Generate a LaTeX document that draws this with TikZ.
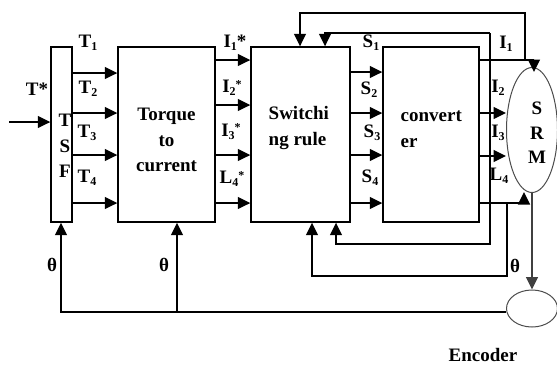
\documentclass[tikz,border=0pt]{standalone}
\usepackage{fontspec}
\setmainfont{Liberation Serif}
\usetikzlibrary{arrows.meta,shapes.geometric}
\newcommand\sbs[1]{\raisebox{-0.35ex}{\fontsize{12}{12}\selectfont #1}}
\newcommand\sps[1]{\raisebox{0.55ex}{\fontsize{12}{12}\selectfont #1}}
\begin{document}
\begin{tikzpicture}[x=1pt,y=-1pt, line width=1.4pt,
  box/.style={draw, rectangle, minimum height=175pt, inner sep=0pt},
  oval/.style={draw=black!70, line width=1pt, ellipse, inner sep=0pt},
  arr/.style={-{Triangle[length=12.5pt,width=12pt]}},
  lbl/.style={font=\fontsize{19}{19}\selectfont\bfseries, inner sep=0pt},
  txt/.style={font=\fontsize{19}{25.5}\selectfont\bfseries, inner sep=0pt}]
\useasboundingbox (0,0) rectangle (557,365);

% blocks
\node[box, minimum width=21pt] (tsf) at (61.5,134.5) {};
\node[box, minimum width=97pt] (tq) at (166.5,134.5) {};
\node[box, minimum width=99pt] (sw) at (300.5,134.5) {};
\node[box, minimum width=96pt] (cv) at (431,134.5) {};
\node[oval, minimum width=51pt, minimum height=125pt] (srm) at (532,130) {};
\node[oval, minimum width=51pt, minimum height=37pt] (enc) at (532,308.5) {};

% block texts
\node[txt, align=center] at (65,146) {T\\S\\F};
\node[txt, align=center] at (166.5,140) {Torque\\to\\current};
\node[txt, align=left, anchor=west] at (268,128) {Switchi\\ng rule};
\node[txt, align=left, anchor=west] at (400,129) {convert\\er};
\node[font=\fontsize{19}{24.5}\selectfont\bfseries, inner sep=0pt, align=center] at (537,133) {S\\R\\M};
\node[txt] at (483,355) {Encoder};

% forward arrows
\draw[arr] (9,122) -- (tsf.west |- 0,122);
\foreach \y in {73,113,155,203} \draw[arr] (tsf.east |- 0,\y) -- (tq.west |- 0,\y);
\foreach \y in {60,105,155,203} \draw[arr] (tq.east |- 0,\y) -- (sw.west |- 0,\y);
\foreach \y in {72,113,155,203} \draw[arr] (sw.east |- 0,\y) -- (cv.west |- 0,\y);

% converter outputs
\draw[arr] (cv.east |- 0,60) -- (534,60) -- (534,72);
\draw[arr] (cv.east |- 0,113) -- (506,113);
\draw[arr] (cv.east |- 0,156) -- (506,156);
\draw[arr] (cv.east |- 0,203) -- (524,203) -- (524,192);

% feedback loops
\draw[arr] (525,60) -- (525,13) -- (300,13) -- (sw.north -| 300,0);
\draw[arr] (490,33) -- (325,33) -- (sw.north -| 325,0);
\draw[arr] (490,33) -- (490,244) -- (336,244) -- (sw.south -| 336,0);
\draw[arr] (507,203) -- (507,276) -- (312,276) -- (sw.south -| 312,0);
\draw[arr, draw=black!75] (srm.south) -- (enc.north);
\draw[arr] (enc.west |- 0,312) -- (61,312) -- (tsf.south -| 61,0);
\draw[arr] (177,312) -- (tq.south -| 177,0);

% labels
\node[lbl] at (37,89) {T*};
\node[lbl] at (88,43) {T\sbs{1}};
\node[lbl] at (88,89) {T\sbs{2}};
\node[lbl] at (87,133) {T\sbs{3}};
\node[lbl] at (87,178) {T\sbs{4}};
\node[lbl] at (235,43) {I\sbs{1}*};
\node[lbl] at (232,88) {I\sbs{2}\sps{*}};
\node[lbl] at (231,132) {I\sbs{3}\sps{*}};
\node[lbl] at (232,179) {L\sbs{4}\sps{*}};
\node[lbl] at (371,43) {S\sbs{1}};
\node[lbl] at (369,90) {S\sbs{2}};
\node[lbl] at (372,133) {S\sbs{3}};
\node[lbl] at (370,178) {S\sbs{4}};
\node[lbl] at (506,44) {I\sbs{1}};
\node[lbl] at (498,88) {I\sbs{2}};
\node[lbl] at (498,133) {I\sbs{3}};
\node[lbl] at (499,176) {L\sbs{4}};
\node[lbl] at (52,265) {θ};
\node[lbl] at (164,265) {θ};
\node[lbl] at (515,266) {θ};
\end{tikzpicture}
\end{document}
